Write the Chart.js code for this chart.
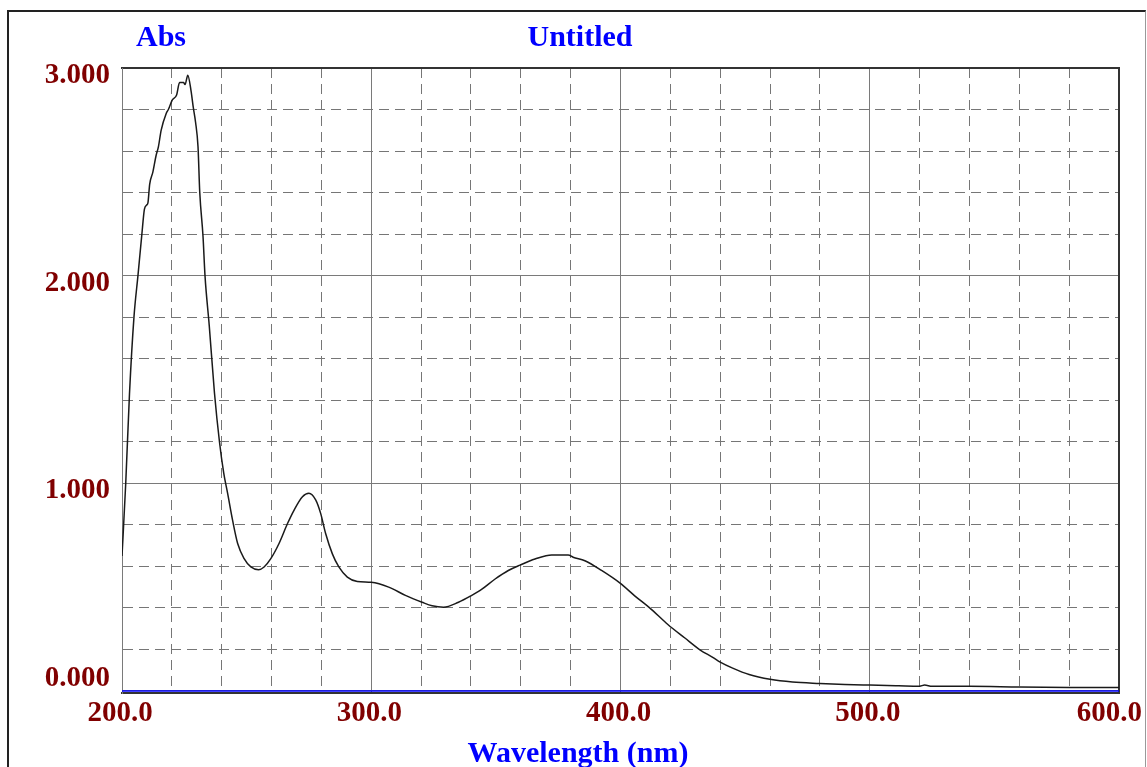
<!DOCTYPE html>
<html>
<head>
<meta charset="utf-8">
<title>Untitled</title>
<script src="https://cdn.jsdelivr.net/npm/chart.js@4.4.1/dist/chart.umd.min.js"></script>
<style>
  html, body { margin: 0; padding: 0; background: #fff; overflow: hidden; }
  #frame {
    position: absolute; left: 7px; top: 10px; width: 1136px; height: 800px;
    border-left: 2px solid #222; border-top: 2px solid #222; border-right: 1px solid #999;
  }
  #spectrum { position: absolute; left: 0; top: 0; }
</style>
</head>
<body>
<div id="frame"></div>
<canvas id="spectrum" width="1147" height="767"></canvas>
<script>
// scan data, nm / Abs
const wavelength = [
  200, 201.5, 203, 204.8, 206.4, 207.9, 209.0, 209.9, 210.4, 211.1, 212.4, 213.7, 214.6, 215.7, 217.7,
  218.6, 220.2, 221.9, 223.1, 224.7, 225.3, 226.4, 227.7, 228.6, 229.5, 230.5, 231.2, 232.5, 233.3,
  235, 237.1, 239.1, 240.8, 242.4, 244.4, 246.4, 249, 251.7, 254.8, 257, 259.7, 263, 266.4, 269,
  272.4, 275, 277.7, 279.7, 281.7, 284.4, 287, 290.4, 294.4, 300, 307, 313.7, 320.4, 324.4, 329,
  335, 340, 344.4, 349.7, 355, 359.7, 365.7, 372.4, 379, 381, 385.7, 392.4, 399.7, 405.7, 411.7,
  419, 425.7, 432, 437, 440, 445, 451.6, 460, 469, 480, 490, 500, 511.6, 520, 522, 525, 540, 560,
  580, 600
];
const absorbance = [
  0.65, 1.00, 1.43, 1.80, 2.00, 2.19, 2.32, 2.34, 2.35, 2.44, 2.50, 2.58, 2.62, 2.70, 2.78,
  2.80, 2.846, 2.87, 2.93, 2.93, 2.92, 2.965, 2.89, 2.81, 2.74, 2.62, 2.40, 2.19, 2.00,
  1.76, 1.435, 1.20, 1.05, 0.95, 0.82, 0.71, 0.637, 0.597, 0.584, 0.597, 0.637, 0.71, 0.806, 0.87,
  0.935, 0.952, 0.92, 0.855, 0.758, 0.66, 0.597, 0.548, 0.527, 0.523, 0.50, 0.46, 0.427, 0.41, 0.403,
  0.427, 0.458, 0.49, 0.539, 0.58, 0.606, 0.635, 0.655, 0.655, 0.644, 0.627, 0.58, 0.52, 0.458, 0.40,
  0.32, 0.256, 0.197, 0.162, 0.139, 0.11, 0.079, 0.056, 0.043, 0.036, 0.031, 0.028, 0.025, 0.023, 0.028, 0.022, 0.022, 0.019,
  0.017, 0.016
];

// baseline trace
const baseX = [200, 600];
const baseY = [0, 0];

// grid and labels
const xMinor = [200, 220, 240, 260, 280, 300, 320, 340, 360, 380, 400, 420, 440, 460, 480, 500, 520, 540, 560, 580, 600];
const xMajor = [200, 300, 400, 500, 600];
const yMinor = [0, 0.2, 0.4, 0.6, 0.8, 1.0, 1.2, 1.4, 1.6, 1.8, 2.0, 2.2, 2.4, 2.6, 2.8, 3.0];
const yMajor = [0, 1, 2, 3];
const xLabels = [200, 300, 400, 500, 600];
const yLabels = [0, 1, 2, 3];

const setTicks = list => axis => { axis.ticks = list.map(v => ({ value: v })); };

const textPlugin = {
  id: 'spectrumText',
  afterDraw(chart) {
    const { ctx, chartArea, scales } = chart;
    ctx.save();
    ctx.font = 'bold 29px "Liberation Serif"';
    ctx.fillStyle = '#800000';
    ctx.textBaseline = 'alphabetic';
    ctx.textAlign = 'right';
    yLabels.forEach(v => {
      const py = scales.y.getPixelForValue(v);
      ctx.fillText(v.toFixed(3), 110, Math.min(py + 15, chartArea.bottom - 7));
    });
    ctx.textAlign = 'center';
    xLabels.forEach(v => {
      const txt = v.toFixed(1);
      const half = ctx.measureText(txt).width / 2;
      const px = Math.min(scales.x.getPixelForValue(v) - 2, chart.width - 5 - half);
      ctx.fillText(txt, px, chartArea.bottom + 28);
    });

    ctx.font = 'bold 30px "Liberation Serif"';
    ctx.fillStyle = '#0000ff';
    ctx.textAlign = 'left';
    ctx.fillText('Abs', 136, 46);
    ctx.textAlign = 'center';
    ctx.fillText('Untitled', 580, 46);
    ctx.fillText('Wavelength (nm)', 578, 762);
    ctx.restore();
  }
};

new Chart(document.getElementById('spectrum'), {
  type: 'line',
  data: {
    datasets: [
      {
        label: 'Abs',
        data: wavelength.map((x, i) => ({ x: x, y: absorbance[i] })),
        borderColor: '#1a1a1a',
        borderWidth: 1.5,
        pointRadius: 0,
        cubicInterpolationMode: 'monotone',
        xAxisID: 'x',
        yAxisID: 'y'
      },
      {
        label: 'baseline',
        data: baseX.map((x, i) => ({ x: x, y: baseY[i] })),
        borderColor: '#0000ff',
        borderWidth: 1.5,
        pointRadius: 0,
        xAxisID: 'x',
        yAxisID: 'y'
      }
    ]
  },
  options: {
    responsive: false,
    animation: false,
    layout: { padding: { left: 122, right: 28, top: 68, bottom: 74 } },
    plugins: { legend: { display: false }, tooltip: { enabled: false } },
    scales: {
      x: {
        type: 'linear', position: 'bottom', min: 200, max: 600,
        afterBuildTicks: setTicks(xMinor),
        ticks: { display: false },
        grid: { color: '#767676', lineWidth: 1, drawTicks: false },
        border: { color: '#333', width: 2, dash: [10, 6] }
      },
      x2: {
        type: 'linear', position: 'top', min: 200, max: 600,
        afterBuildTicks: setTicks(xMajor),
        ticks: { display: false },
        grid: { color: '#7a7a7a', lineWidth: 1, drawTicks: false },
        border: { color: '#333', width: 2 }
      },
      y: {
        type: 'linear', position: 'left', min: -0.01, max: 3,
        afterBuildTicks: setTicks(yMinor),
        ticks: { display: false },
        grid: { color: '#767676', lineWidth: 1, drawTicks: false },
        border: { color: '#7a7a7a', width: 1, dash: [10, 6] }
      },
      y2: {
        type: 'linear', position: 'right', min: -0.01, max: 3,
        afterBuildTicks: setTicks(yMajor),
        ticks: { display: false },
        grid: { color: '#7a7a7a', lineWidth: 1, drawTicks: false },
        border: { color: '#333', width: 2 }
      }
    }
  },
  plugins: [textPlugin]
});
</script>
</body>
</html>
